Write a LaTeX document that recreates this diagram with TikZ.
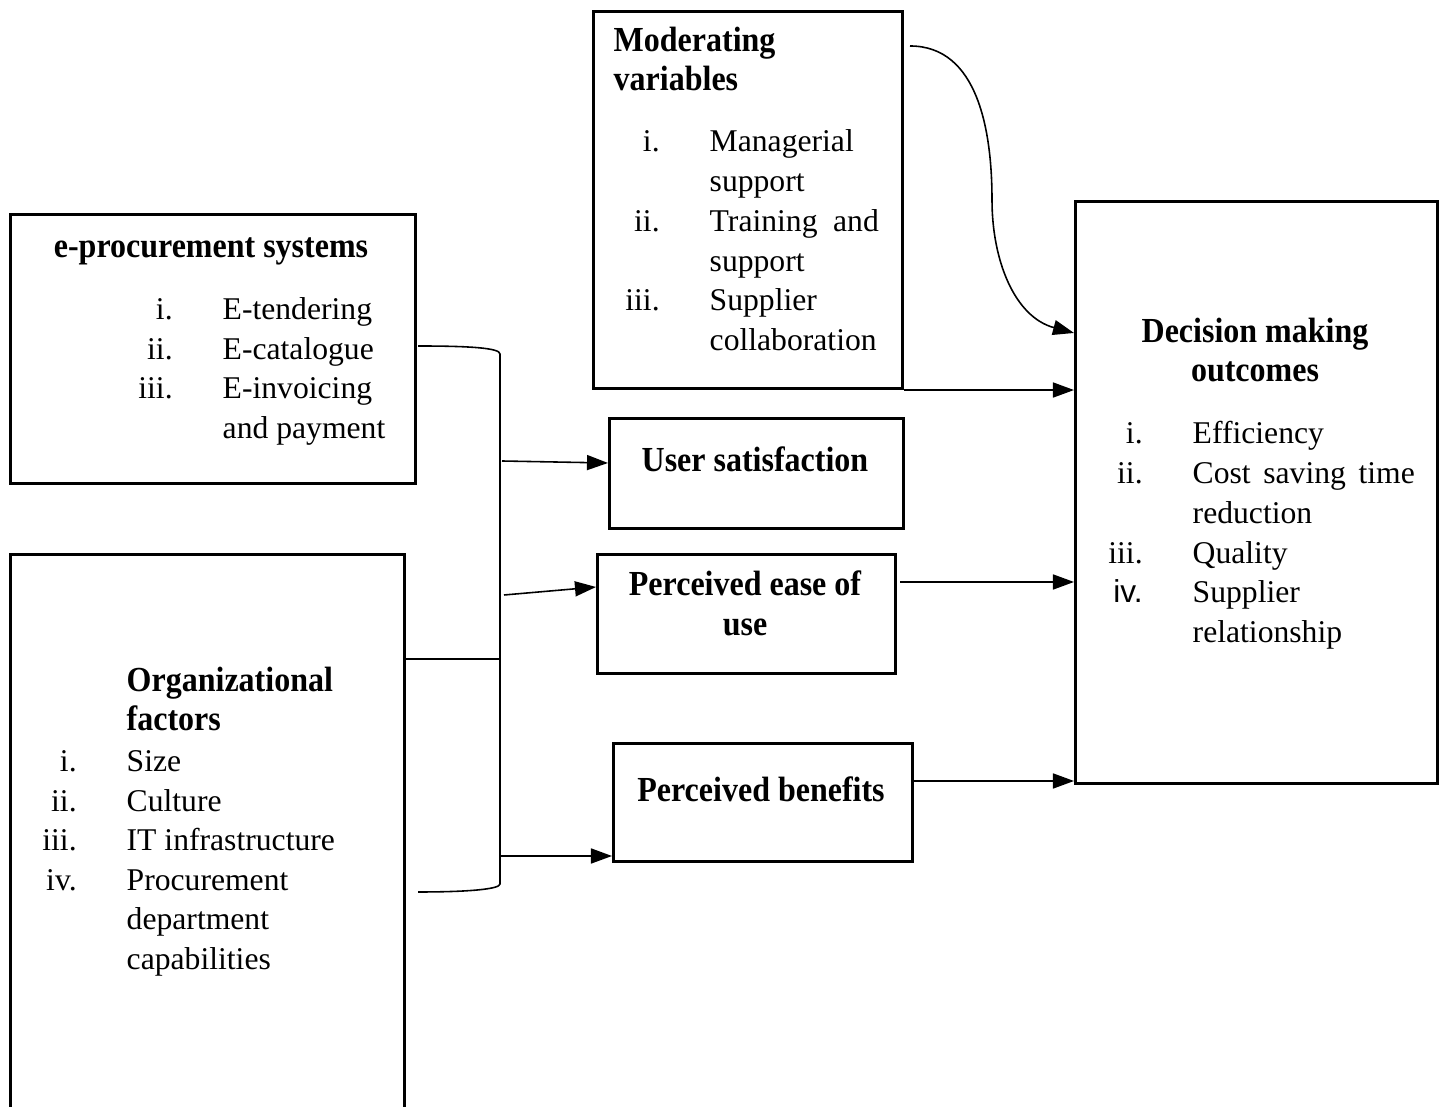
\documentclass[tikz,border=0pt]{standalone}
\usepackage{fontspec}
\setmainfont{Liberation Serif}[BoldFeatures={FakeStretch=0.91}]
\newfontfamily\arialfont{Liberation Sans}
\usetikzlibrary{arrows.meta}

\tikzset{
  box/.style={draw, line width=0.8pt, inner sep=0pt, anchor=north west},
  conn/.style={line width=0.45pt},
  arr/.style={conn, -{Triangle[length=0.21cm,width=0.15cm]}},
  item/.style={anchor=base west, inner sep=0pt},
  ttl/.style={anchor=base, inner sep=0pt, font=\bfseries},
  ttll/.style={anchor=base west, inner sep=0pt, font=\bfseries}
}
\newcommand{\num}[1]{\llap{#1\hspace{0.5cm}}}

\begin{document}
\begin{tikzpicture}[x=0.01cm, y=-0.01cm, font=\fontsize{9}{11}\selectfont]
\useasboundingbox (0,0) rectangle (1442,1107);

% boxes
\node[box, minimum width=4.05cm, minimum height=2.69cm] (eproc) at (9,213) {};
\node[box, minimum width=3.94cm, minimum height=5.70cm] (org) at (9,553) {};
\node[box, minimum width=3.09cm, minimum height=3.77cm] (mod) at (592,10) {};
\node[box, minimum width=3.62cm, minimum height=5.82cm] (dec) at (1074,200) {};
\node[box, minimum width=2.94cm, minimum height=1.10cm] (user) at (608,417) {};
\node[box, minimum width=2.98cm, minimum height=1.19cm] (ease) at (596,553) {};
\node[box, minimum width=2.99cm, minimum height=1.18cm] (ben) at (612,742) {};

% e-procurement systems
\node[ttl] (ep-t) at (211,258) {e-procurement systems};
\foreach \n/\t [count=\k from 0] in {i./E-tendering, ii./E-catalogue, iii./E-invoicing, /and payment}
  \node[item] (ep-\k) at (222,320+39.5*\k) {\num{\n}\t};

% organizational factors
\node[ttll] (org-t1) at (126,692) {Organizational};
\node[ttll] (org-t2) at (126,731) {factors};
\foreach \n/\t [count=\k from 0] in {i./Size, ii./Culture, iii./IT infrastructure, iv./Procurement, /department, /capabilities}
  \node[item] (org-\k) at (126,772+39.5*\k) {\num{\n}\t};

% moderating variables
\node[ttll] (mod-t1) at (613,52) {Moderating};
\node[ttll] (mod-t2) at (613,91) {variables};
\foreach \n/\t [count=\k from 0] in {i./Managerial, /support, ii./{\makebox[1.69cm][s]{Training and}}, /support, iii./Supplier, /collaboration}
  \node[item] (mod-\k) at (709,152+39.7*\k) {\num{\n}\t};

% decision making outcomes
\node[ttl] (dec-t1) at (1255,343) {Decision making};
\node[ttl] (dec-t2) at (1255,382) {outcomes};
\foreach \n/\t [count=\k from 0] in {i./Efficiency, ii./{\makebox[2.22cm][s]{Cost saving time}}, /reduction, iii./Quality, {\arialfont iv.}/Supplier, /relationship}
  \node[item] (dec-\k) at (1192,444+39.7*\k) {\num{\n}\t};

% middle boxes
\node[ttl] (user-t) at (755,472) {User satisfaction};
\node[ttl] (ease-t1) at (745,596) {Perceived ease of};
\node[ttl] (ease-t2) at (745,636) {use};
\node[ttl] (ben-t) at (761,802) {Perceived benefits};

% bracket
\coordinate (bt) at (418,346);
\coordinate (bb) at (418,892);
\coordinate (bj) at (500,659);
\draw[conn] (bt) .. controls (470,346) and (500,348) .. (500,354) -- (500,884)
  .. controls (500,889) and (470,892) .. (bb);
\draw[conn] (org.east |- bj) -- (bj);

% arrows from bracket
\coordinate (s1) at (502,461);
\coordinate (s2) at (504,595);
\coordinate (s3) at (500,856);
\draw[arr] (s1) -- (user.west |- 0,463);
\draw[arr] (s2) -- (ease.west |- 0,587);
\draw[arr] (s3) -- (ben.west |- 0,856);

% arrows into decision box
\coordinate (mc) at (910,46);
\draw[arr] (mc) to[out=0,in=90] (992,200) to[out=-90,in=165] (dec.west |- 0,333);
\draw[arr] (mod.south east) -- (dec.west |- mod.south east);
\draw[arr] (900,582) -- (dec.west |- 0,582);
\draw[arr] (913,781) -- (dec.west |- 0,781);
\end{tikzpicture}
\end{document}
